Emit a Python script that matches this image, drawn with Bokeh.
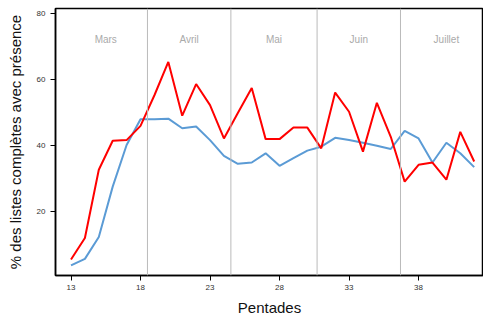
from bokeh.plotting import figure
from bokeh.models import FixedTicker, Span, Range1d, Label
from bokeh.embed import file_html
from bokeh.resources import INLINE

pentades = list(range(13, 43))
red_vals = [5.3, 11.8, 32.5, 41.3, 41.5, 45.8, 55.1, 65.2, 48.9, 58.5,
            52.1, 42.0, 49.7, 57.3, 41.8, 41.8, 45.3, 45.3, 39.0, 55.9,
            50.1, 38.0, 52.8, 42.5, 28.9, 34.0, 34.7, 29.5, 44.0, 35.0]
blue_vals = [3.5, 5.5, 12.1, 27.4, 40.0, 47.8, 47.8, 48.0, 45.1, 45.6,
             41.5, 36.7, 34.3, 34.7, 37.5, 33.7, 36.0, 38.3, 39.5, 42.2,
             41.5, 40.7, 39.8, 38.8, 44.3, 42.0, 34.7, 40.7, 37.5, 33.3]
month_bounds = [18.5, 24.5, 30.7, 36.7]
month_names = ["Mars", "Avril", "Mai", "Juin", "Juillet"]
month_centers = [15.5, 21.5, 27.6, 33.7, 40.0]
month_label_y = 72
x_ticks = [13, 18, 23, 28, 33, 38]
y_ticks = [20, 40, 60, 80]

FONT = "Liberation Sans"

p = figure(width=483, height=318, output_backend="svg", toolbar_location=None,
           x_range=Range1d(11.885, 42.67), y_range=Range1d(0.45, 81.4),
           min_border_left=55, min_border_right=0, min_border_top=8,
           min_border_bottom=42)

p.xgrid.visible = False
p.ygrid.visible = False
p.outline_line_color = "black"
p.outline_line_width = 1.5

for b in month_bounds:
    p.add_layout(Span(location=b, dimension="height", line_color="#bbbbbb", line_width=1))

for name, cx in zip(month_names, month_centers):
    p.add_layout(Label(x=cx, y=month_label_y, text=name, text_align="center",
                       text_baseline="middle", text_font=FONT, text_font_size="10px",
                       text_color="#aaaaaa"))

p.line(pentades, blue_vals, line_color="#5b9bd5", line_width=2)
p.line(pentades, red_vals, line_color="#ff0000", line_width=2)

p.xaxis.ticker = FixedTicker(ticks=x_ticks)
p.yaxis.ticker = FixedTicker(ticks=y_ticks)
for ax in (p.xaxis[0], p.yaxis[0]):
    ax.axis_line_color = "black"
    ax.axis_line_width = 1.5
    ax.major_tick_line_color = "black"
    ax.major_tick_line_width = 1
    ax.major_tick_out = 5
    ax.major_tick_in = 0
    ax.minor_tick_out = 0
    ax.minor_tick_in = 0
    ax.major_label_text_font = FONT
    ax.major_label_text_font_size = "8px"
    ax.major_label_text_color = "#333333"
    ax.axis_label_text_font = FONT
    ax.axis_label_text_font_style = "normal"
    ax.axis_label_text_color = "#111111"

p.xaxis.axis_label = "Pentades"
p.xaxis.axis_label_text_font_size = "15px"
p.xaxis.major_label_standoff = 4
p.xaxis.axis_label_standoff = 6
p.yaxis.axis_label = "% des listes complètes avec présence"
p.yaxis.axis_label_text_font_size = "15px"
p.yaxis.major_label_standoff = 5
p.yaxis.axis_label_standoff = 10

open("out.html", "w").write(file_html(p, INLINE))
